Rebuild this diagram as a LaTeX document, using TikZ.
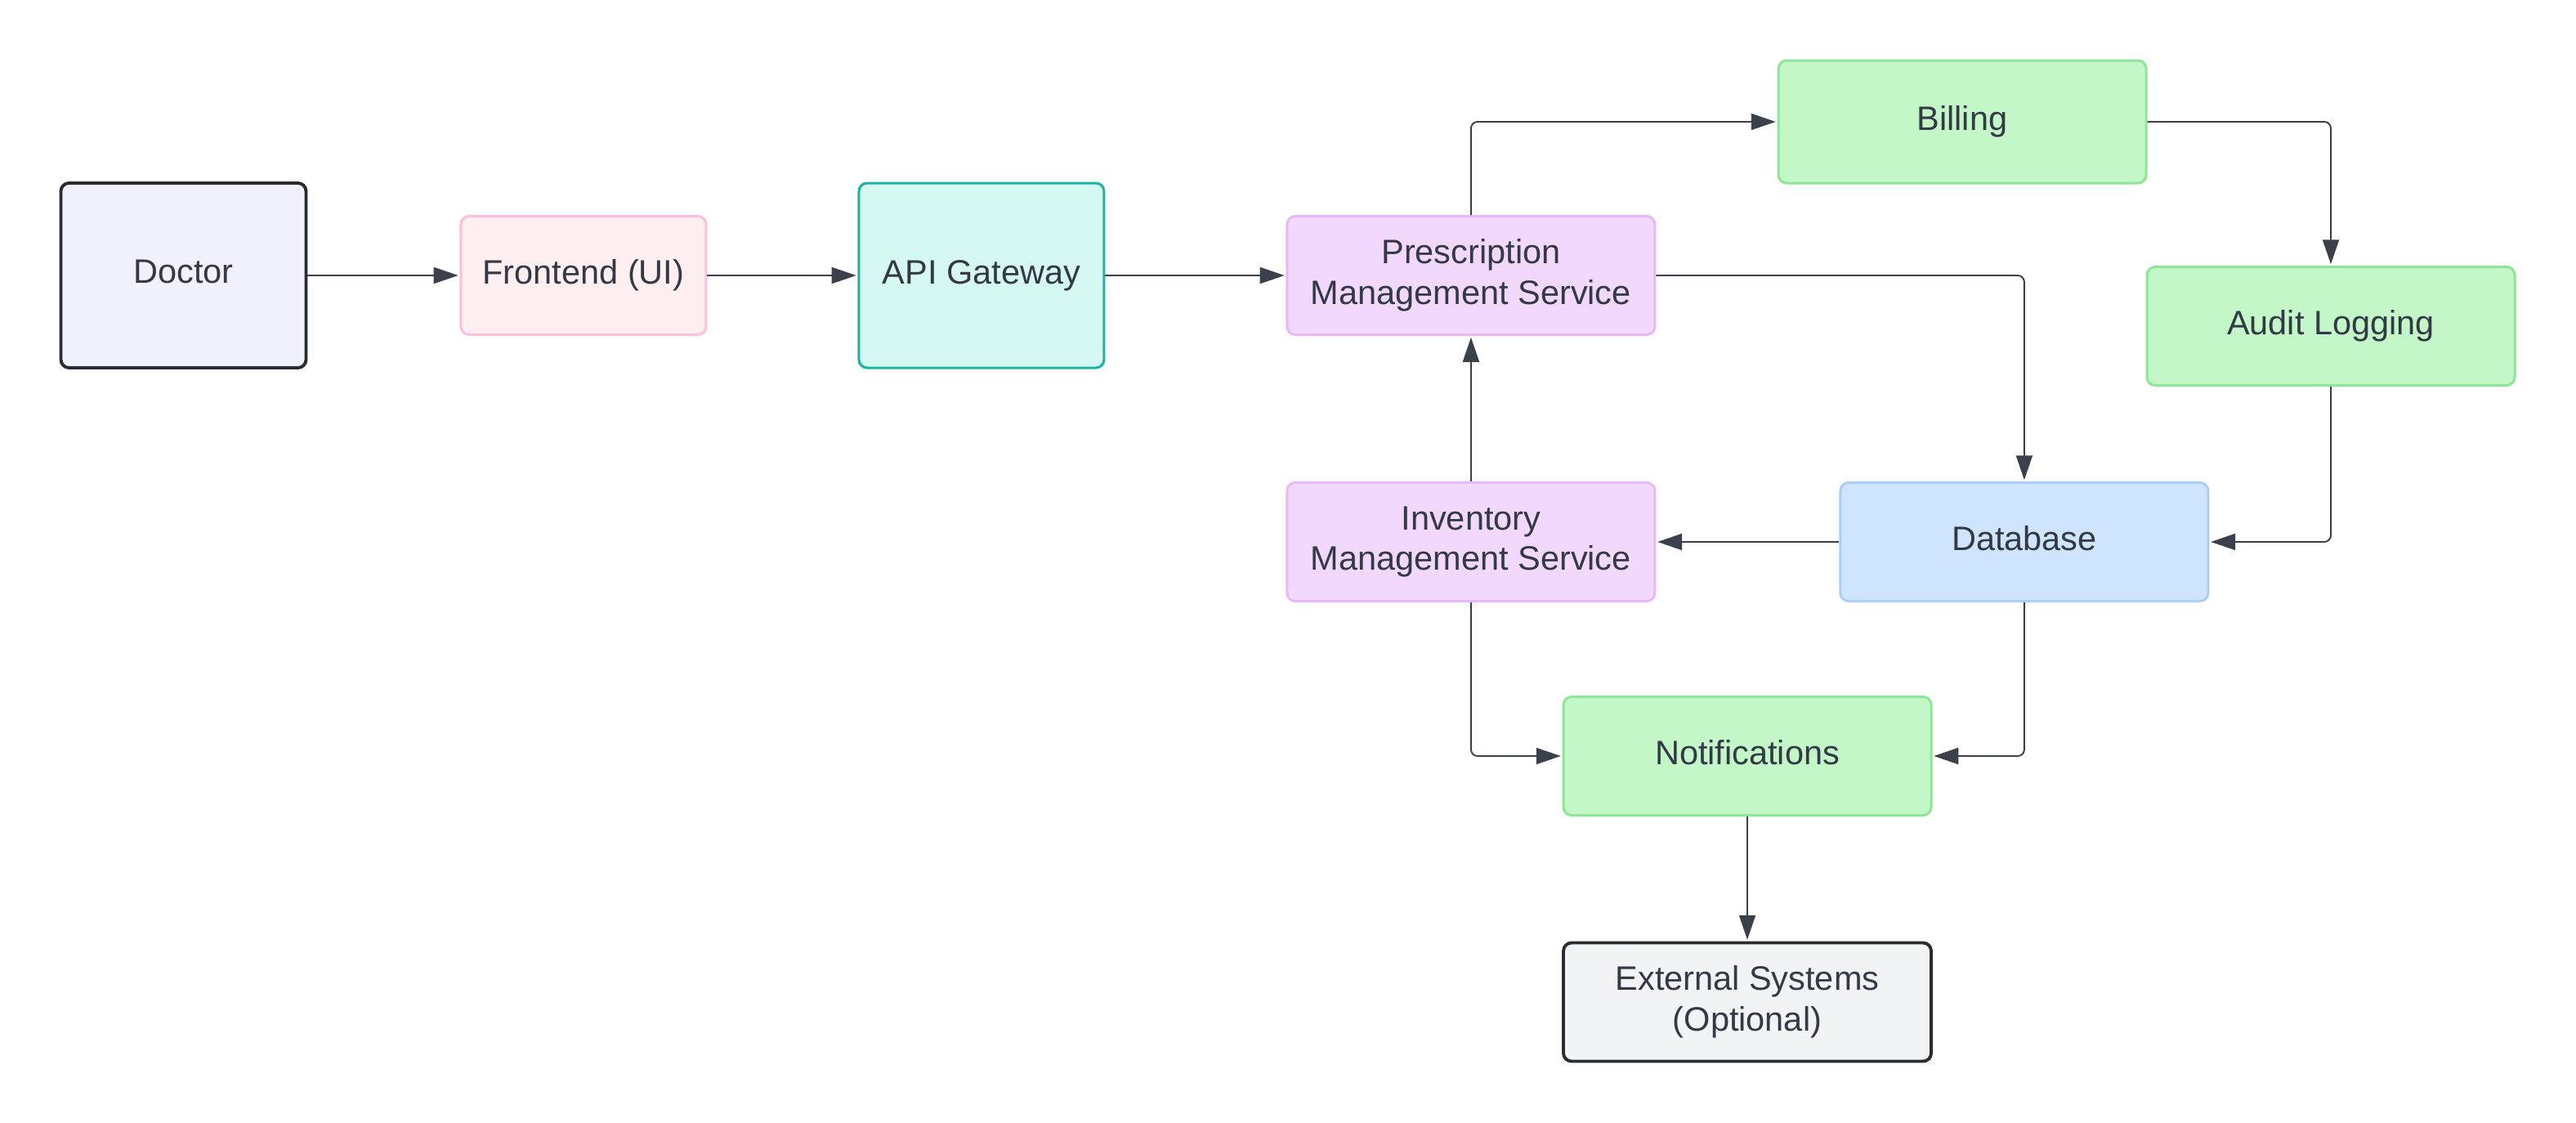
\documentclass[tikz,border=0pt]{standalone}
\usepackage{fontspec}
\setmainfont{Liberation Sans}
\usetikzlibrary{positioning, arrows.meta}
\definecolor{ink}{HTML}{3A414A}
\definecolor{txt}{HTML}{333A45}
\definecolor{dark}{HTML}{282C33}
\definecolor{lavender}{HTML}{F1F0FD}
\definecolor{pinkfill}{HTML}{FFEFF0}
\definecolor{pinkline}{HTML}{FFBFDB}
\definecolor{tealfill}{HTML}{D6F8F2}
\definecolor{tealline}{HTML}{19B5A0}
\definecolor{violetfill}{HTML}{F2D8FD}
\definecolor{violetline}{HTML}{E8B8FB}
\definecolor{greenfill}{HTML}{C3F7C8}
\definecolor{greenline}{HTML}{8DE696}
\definecolor{bluefill}{HTML}{CFE4FF}
\definecolor{blueline}{HTML}{A9CEFD}
\definecolor{greyfill}{HTML}{F2F3F5}
\tikzset{
every node/.style = {font = \fontsize{11.8}{14.1}\selectfont, text = txt},
box/.style = {rectangle, draw, rounded corners = 1mm, line width = 0.85pt,
	minimum width = 4.5cm, minimum height = 1.45cm, align = center, inner sep = 2pt},
oneline/.style = {text depth = 0.25em},
actor/.style = {box, oneline, draw = dark, fill = lavender, line width = 1.1pt,
	minimum width = 3cm, minimum height = 2.26cm},
frontend/.style = {box, oneline, draw = pinkline, fill = pinkfill, minimum width = 3cm},
gateway/.style = {box, oneline, draw = tealline, fill = tealfill,
	minimum width = 3cm, minimum height = 2.26cm},
service/.style = {box, draw = violetline, fill = violetfill},
support/.style = {box, oneline, draw = greenline, fill = greenfill},
store/.style = {box, oneline, draw = blueline, fill = bluefill},
external/.style = {box, draw = dark, fill = greyfill, line width = 1.1pt},
flow/.style = {-{Triangle[length = 3mm, width = 2mm]}, line width = 0.55pt, draw = ink,
	rounded corners = 0.8mm, shorten > = 0.5pt}
}

\begin{document}
\begin{tikzpicture}
\useasboundingbox (0,0) rectangle (31.52,-13.73);

%% The request path
\node [actor] (doctor) at (2.245,-3.37) {Doctor};
\node [frontend] (frontend) [right = 1.86cm of doctor] {Frontend (UI)};
\node [gateway] (gateway) [right = 1.84cm of frontend] {API Gateway};
\node [service] (prescription) [right = 2.21cm of gateway] {Prescription\\Management Service};

%% The back end
\node [support, minimum height = 1.5cm] (billing) at (24.01,-1.49) {Billing};
\node [support] (audit) at (28.52,-3.99) {Audit Logging};
\node [service] (inventory) [below = 1.78cm of prescription] {Inventory\\Management Service};
\node [store] (database) [right = 2.24cm of inventory] {Database};
\node [support] (notifications) at (21.38,-9.25) {Notifications};
\node [external] (systems) at (21.38,-12.26) {External Systems\\(Optional)};

%% The flows
\draw [flow] (doctor) -- (frontend);
\draw [flow] (frontend) -- (gateway);
\draw [flow] (gateway) -- (prescription);
\draw [flow] (prescription.north) |- (billing.west);
\draw [flow] (billing.east) -| (audit.north);
\draw [flow] (prescription.east) -| (database.north);
\draw [flow] (audit.south) |- (database.east);
\draw [flow] (database) -- (inventory);
\draw [flow] (inventory) -- (prescription);
\draw [flow] (inventory.south) |- (notifications.west);
\draw [flow] (database.south) |- (notifications.east);
\draw [flow] (notifications) -- (systems);

\end{tikzpicture}
\end{document}
